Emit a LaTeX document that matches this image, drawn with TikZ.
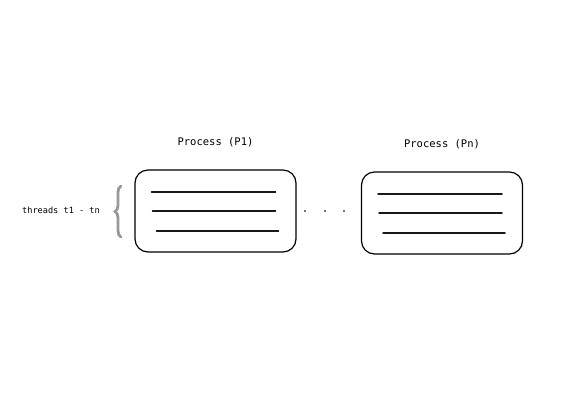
\documentclass[tikz,border=0pt]{standalone}
\usepackage{fontspec}
\setmonofont{DejaVu Sans Mono}
\usepackage{tikz}
\usetikzlibrary{positioning,decorations.pathreplacing}

\begin{document}
\begin{tikzpicture}[x=1pt,y=-1pt,line cap=round,
			proc node/.style={draw,line width=1.2pt,rounded corners=13pt,minimum width=161pt,minimum height=82pt,inner sep=0pt},
			title/.style={font=\ttfamily\fontsize{10.5}{12}\selectfont},
			thread/.style={line width=1.2pt,black!90}];
			
			\useasboundingbox (0,0) rectangle (588,408);
			
			\node[proc node] (p1) at (215.5,211) {};
			\node[proc node] (pn) at (442,213) {};
			\node[title] (t1) [above=19pt of p1] {Process (P1)};
			\node[title] (tn) [above=19pt of pn] {Process (Pn)};
			
			% threads in each process
			\foreach \p in {p1,pn} {
				\draw[thread] ([xshift=17pt,yshift=19pt]\p.west) -- ([xshift=-21pt,yshift=19pt]\p.east);
				\draw[thread] ([xshift=18pt,yshift=0pt]\p.west) -- ([xshift=-21pt,yshift=0pt]\p.east);
				\draw[thread] ([xshift=22pt,yshift=-20pt]\p.west) -- ([xshift=-18pt,yshift=-20pt]\p.east);
			}
			
			% dots between the processes
			\foreach \x in {305,325,344}
				\fill[black!75] (\x,211) circle (1.2pt);
			
			\coordinate (bb) at (121,237);
			\coordinate (bt) at (121,186);
			\draw[black!40,line width=2.8pt,decorate,decoration={brace,amplitude=6pt}] (bb) -- (bt);
			\node[font=\ttfamily\fontsize{8.6}{10}\selectfont] (lbl) at (61,210) {threads t1 - tn};
			
\end{tikzpicture}
\end{document}
